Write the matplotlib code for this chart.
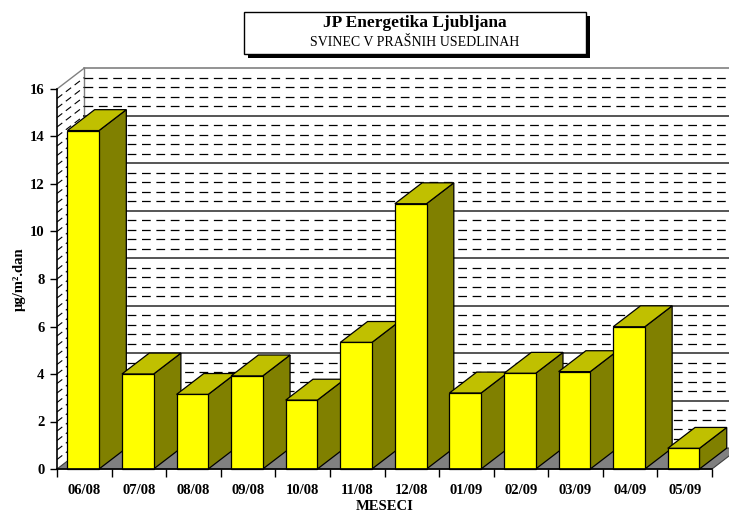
import numpy as np
import matplotlib
matplotlib.use("Agg")
import matplotlib.pyplot as plt
from matplotlib.patches import Polygon, Rectangle

# data
meseci = ["06/08", "07/08", "08/08", "09/08", "10/08", "11/08",
          "12/08", "01/09", "02/09", "03/09", "04/09", "05/09"]
svinec = [14.25, 4.0, 3.14, 3.92, 2.9, 5.33, 11.17, 3.2, 4.03, 4.1, 5.99, 0.87]
yticks = [0, 2, 4, 6, 8, 10, 12, 14, 16]

plt.rcParams["font.family"] = ["Liberation Serif", "DejaVu Serif"]

W, H = 729, 514
fig = plt.figure(figsize=(W / 100, H / 100), dpi=100)
x0, x1, yb, yt = 57, 712, 469, 89
ax = fig.add_axes([x0 / W, (H - yb) / H, (x1 - x0) / W, (yb - yt) / H])
ax.set_xlim(-0.5, 11.5)
ax.set_ylim(0, 16)
ax.set_facecolor("none")

DX, DY = 0.5, 0.88   # depth offset (data units)
n = len(meseci)
xl, xr = -0.5, n - 0.5

# floor
ax.add_patch(Polygon([(xl, 0), (xr, 0), (xr + DX, DY), (xl + DX, DY)],
                     closed=True, fc="#808080", ec="#404040", lw=0.8,
                     clip_on=False, zorder=1))
# back wall
ax.add_patch(Rectangle((xl + DX, DY), xr - xl, 16, fc="white", ec="none",
                       clip_on=False, zorder=0.5))
ax.plot([xl + DX, xl + DX], [DY, 16 + DY], color="#808080", lw=1, clip_on=False, zorder=1)
ax.plot([xl + DX, xr + DX + 1], [16 + DY, 16 + DY], color="#808080", lw=1.2, clip_on=False, zorder=1)
ax.plot([xl, xl + DX], [16, 16 + DY], color="#808080", lw=1, clip_on=False, zorder=1)

levels = np.round(np.arange(0.4, 16.0, 0.4), 2)
for v in levels:
    major = abs(v / 2 - round(v / 2)) < 1e-6
    if major:
        ax.plot([xl + DX, xr + DX + 1], [v + DY, v + DY], color="#555555", lw=1.4,
                clip_on=False, zorder=1)
    else:
        ax.plot([xl + DX, xr + DX + 1], [v + DY, v + DY], color="black", lw=0.9,
                dashes=(7, 4.5), clip_on=False, zorder=1)
    # left side wall
    ax.plot([xl, xl + DX], [v, v + DY], color="black", lw=0.8,
            dashes=(6, 4), clip_on=False, zorder=1)

# bars
bw = 0.58
for i, val in enumerate(svinec):
    l = i - 0.31
    r = l + bw
    side = [(r, 0), (r + DX, DY), (r + DX, val + DY), (r, val)]
    top = [(l, val), (r, val), (r + DX, val + DY), (l + DX, val + DY)]
    ax.add_patch(Polygon(side, closed=True, fc="#808000", ec="black", lw=0.9,
                         clip_on=False, zorder=3 + i))
    ax.add_patch(Polygon(top, closed=True, fc="#C0C000", ec="black", lw=0.9,
                         clip_on=False, zorder=3 + i))
    ax.add_patch(Rectangle((l, 0), bw, val, fc="#FFFF00", ec="black", lw=0.9,
                           clip_on=False, zorder=3 + i))

# axes
for s in ["top", "right"]:
    ax.spines[s].set_visible(False)
ax.spines["left"].set_linewidth(1.2)
ax.spines["bottom"].set_linewidth(1.2)
ax.spines["left"].set_zorder(30)
ax.spines["bottom"].set_zorder(30)
ax.set_xticks(range(n))
ax.set_xticklabels(meseci, fontsize=10.5, fontweight="bold")
ax.set_xticks(np.arange(-0.5, n, 1.0), minor=True)
ax.tick_params(axis="x", which="major", length=0, pad=11)
ax.tick_params(axis="x", which="minor", length=6, width=1, direction="out")
ax.set_yticks(yticks)
ax.set_yticklabels([str(t) for t in yticks], fontsize=10.5, fontweight="bold")
ax.tick_params(axis="y", length=5, width=1, direction="out", pad=4)
ax.set_xlabel("MESECI", fontsize=10.5, fontweight="bold", va="center")
ax.xaxis.set_label_coords(0.5, -(506 - yb) / (yb - yt))
ax.set_ylabel("µg/m².dan", fontsize=10.5, fontweight="bold", va="center")
ax.yaxis.set_label_coords(-(x0 - 19) / (x1 - x0), 0.5)

# title box with shadow
bx, by, bwid, bh = 244, 12, 342, 42
fig.patches.append(Rectangle(((bx + 4) / W, (H - by - bh - 4) / H), bwid / W, bh / H,
                             transform=fig.transFigure, fc="black", ec="none", zorder=1))
fig.patches.append(Rectangle((bx / W, (H - by - bh) / H), bwid / W, bh / H,
                             transform=fig.transFigure, fc="white", ec="black", lw=1, zorder=2))
fig.text((bx + bwid / 2) / W, (H - 23) / H, "JP Energetika Ljubljana", ha="center",
         va="center", fontsize=12.5, fontweight="bold")
fig.text((bx + bwid / 2) / W, (H - 42) / H, "SVINEC V PRAŠNIH USEDLINAH", ha="center",
         va="center", fontsize=10)

fig.savefig("out.png", dpi=100)
